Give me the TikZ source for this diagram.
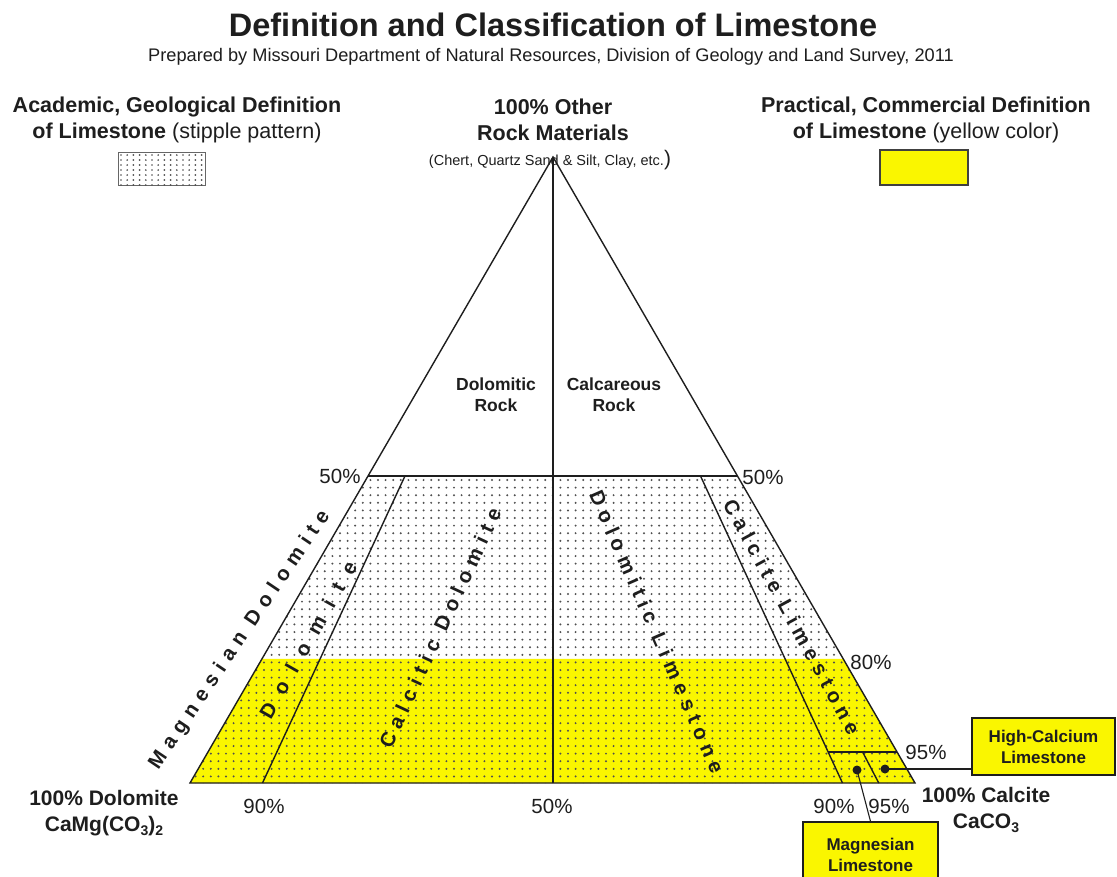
\documentclass[tikz,border=0pt]{standalone}
\usepackage{fontspec}
\setmainfont{Liberation Sans}
\usetikzlibrary{calc}
\definecolor{ylw}{RGB}{250,246,0}
\definecolor{dotc}{RGB}{80,80,80}
\definecolor{ink}{RGB}{30,30,30}
\newcommand\fsz[2]{\fontsize{#1}{#2}\selectfont}
\newcommand\subs[1]{\raisebox{-0.35ex}{\fsz{14}{14}#1}}
\begin{document}
\begin{tikzpicture}[x=1pt,y=-1pt,
  edge/.style={line width=1.4pt, draw=ink},
  txt/.style={inner sep=0pt, align=center, text=ink},
  head/.style={txt, font=\fsz{21.5}{26}\bfseries},
  pct/.style={txt, font=\fsz{20.5}{24}},
  corner/.style={txt, font=\fsz{21}{26}\bfseries},
  rock/.style={txt, font=\fsz{17.5}{21}\bfseries},
  spaced/.style={txt, font=\fsz{20.5}{22}\bfseries\addfontfeature{LetterSpace=#1}},
  callout/.style={draw=ink, line width=1.3pt, fill=ylw, align=center, inner sep=0pt, text=ink, font=\fsz{17}{21}\bfseries},
  dotmark/.style={circle, fill=ink, inner sep=0pt, minimum size=9pt},
  conn/.style={line width=1.1pt, draw=ink}
]
\useasboundingbox (0,0) rectangle (1117,876);
\fill[white] (0,0) rectangle (1117,876);

% triangle corners and key points
\coordinate (A) at (553,157);
\coordinate (L) at (190,783);
\coordinate (R) at (915,783);
\coordinate (M) at (553,783);
\coordinate (l50) at ($(L)!0.4904!(A)$);
\coordinate (r50) at ($(R)!0.4904!(A)$);
\coordinate (l80) at ($(L)!0.1981!(A)$);
\coordinate (r80) at ($(R)!0.1981!(A)$);
\coordinate (r95) at ($(R)!0.0495!(A)$);
\coordinate (d90) at ($(L)!0.1!(R)$);
\coordinate (c90) at ($(R)!0.1!(L)$);
\coordinate (c95) at ($(R)!0.05!(L)$);
\coordinate (d90t) at ($(d90)!0.4904!(A)$);
\coordinate (c90t) at ($(c90)!0.4904!(A)$);
\coordinate (c90h) at ($(c90)!0.0495!(A)$);
\coordinate (c95h) at ($(c95)!0.0495!(A)$);

% yellow (commercial) area
\fill[ylw] (L) -- (l80) -- (r80) -- (R) -- cycle;
% stipple (academic) area
\begin{scope}
  \clip (L) -- (l50) -- (r50) -- (R) -- cycle;
  \foreach \i in {0,...,96} {
    \foreach \j in {0,...,41} {
      \fill[dotc] (188+\i*7.6, 480+\j*7.6) circle (1.1);
    }
  }
\end{scope}

% boundary lines
\draw[edge, line join=miter] (L) -- (A) -- (R) -- cycle;
\draw[edge] (l50) -- (r50);
\draw[edge] (A) -- (M);
\draw[edge] (d90) -- (d90t);
\draw[edge] (c90) -- (c90t);
\draw[edge] (c90h) -- (r95);
\draw[edge] (c95) -- (c95h);

% titles
\node[txt, font=\fsz{32.5}{36}\bfseries] (title) at (553,25) {Definition and Classification of Limestone};
\node[txt, font=\fsz{18.2}{20}] (sub) at (551,57) {Prepared by Missouri Department of Natural Resources, Division of Geology and Land Survey, 2011};

% legend headings
\node[head] (acad) at (177,120) {Academic, Geological Definition\\of Limestone \mdseries(stipple pattern)};
\node[head] (other) at (553,120) {100\% Other\\Rock Materials};
\node[txt, font=\fsz{14.5}{16}] (otherlist) at (550,160) {(Chert, Quartz Sand \& Silt, Clay, etc.{\fsz{21}{21})}};
\node[head] (prac) at (926,120) {Practical, Commercial Definition\\of Limestone \mdseries(yellow color)};

% legend swatches
\node[draw=black!60, line width=1pt, fill=white, minimum width=87pt, minimum height=33pt, inner sep=0pt] (stipkey) at (161.5,168.5) {};
\begin{scope}
  \clip (stipkey.south west) rectangle (stipkey.north east);
  \foreach \i in {0,...,13} {
    \foreach \j in {0,...,6} {
      \fill[dotc] (121+\i*6.2, 155+\j*5) circle (0.95);
    }
  }
\end{scope}
\node[draw=black!75, line width=1.2pt, fill=ylw, minimum width=88pt, minimum height=35pt, inner sep=0pt] (ylwkey) at (924,167.5) {};

% region labels
\node[rock] (dolrock) at (496,395) {Dolomitic\\Rock};
\node[rock] (calrock) at (614,395) {Calcareous\\Rock};

\node[spaced=33, rotate=56] (magdol) at (240,640) {Magnesian\hspace{12pt}Dolomite};
\node[spaced=62, rotate=60.5] (dolo) at (308,640) {Dolomite};
\node[spaced=31, rotate=65] (caldol) at (440,628) {Calcitic Dolomite};
\node[spaced=30, rotate=-66.3] (dollim) at (657,632) {Dolomitic Limestone};
\node[spaced=29, rotate=-61.5] (callim) at (792,617) {Calcite Limestone};

% percent labels
\node[pct] (p50l) at (340,476) {50\%};
\node[pct] (p50r) at (763,477) {50\%};
\node[pct] (p80) at (871,662) {80\%};
\node[pct] (p95r) at (926,752) {95\%};
\node[pct] (p90b) at (264,806) {90\%};
\node[pct] (p50b) at (552,806) {50\%};
\node[pct] (p90c) at (834,806) {90\%};
\node[pct] (p95c) at (889,806) {95\%};

% corner labels
\node[corner] (dolcorner) at (104,813) {100\% Dolomite\\CaMg(CO\subs{3})\subs{2}};
\node[corner] (calcorner) at (986,810) {100\% Calcite\\CaCO\subs{3}};

% callouts
\node[dotmark] (magdot) at (857,770) {};
\node[dotmark] (hcdot) at (885,769) {};
\node[callout, minimum width=143pt, minimum height=57pt] (hcbox) at (1043.5,746.5) {High-Calcium\\Limestone};
\node[callout, minimum width=135pt, minimum height=66pt] (mgbox) at (870.5,855) {Magnesian\\Limestone};
\draw[conn] (hcdot.center) -- (hcdot.center -| hcbox.west);
\draw[conn] (magdot.center) -- (mgbox.north);
\end{tikzpicture}
\end{document}
